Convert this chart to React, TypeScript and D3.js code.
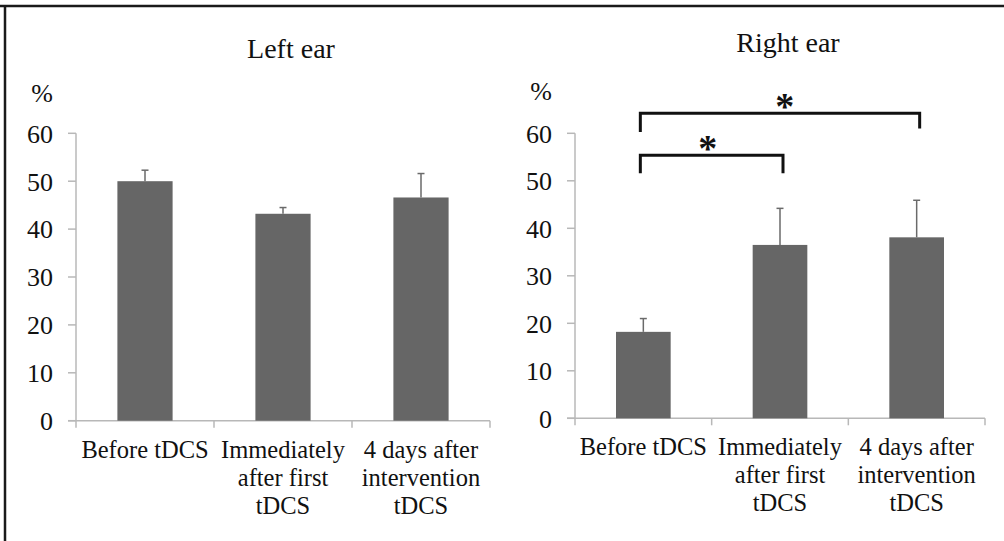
import React from "react";
import * as d3 from "d3";

const categories: string[][] = [
  ["Before tDCS"],
  ["Immediately", "after first", "tDCS"],
  ["4 days after", "intervention", "tDCS"],
];
const yTicks = [0, 10, 20, 30, 40, 50, 60];
const leftMeans = [50.0, 43.2, 46.6];
const leftErrors = [2.3, 1.3, 5.0];
const rightMeans = [18.2, 36.5, 38.1];
const rightErrors = [2.8, 7.7, 7.8];
const rightBrackets = [
  { from: 0, to: 2, level: 64.2, leftEnd: 60.3, rightEnd: 61.0 },
  { from: 0, to: 1, level: 55.4, leftEnd: 51.6, rightEnd: 51.6 },
];

const BAR = "#666666";
const AXIS = "#b8b8b8";

type PanelProps = {
  title: string;
  means: number[];
  errors: number[];
  x0: number;
  x1: number;
  yZero: number;
  yTop: number;
  titleY: number;
  pctY: number;
  brackets?: typeof rightBrackets;
};

function Panel({ title, means, errors, x0, x1, yZero, yTop, titleY, pctY, brackets }: PanelProps) {
  const keys = categories.map((c) => c.join(" "));
  const x = d3.scaleBand<string>().domain(keys).range([x0, x1]).paddingInner(0.6).paddingOuter(0.3);
  const y = d3.scaleLinear().domain([0, 60]).range([yZero, yTop]);
  const step = x.step();
  const bw = x.bandwidth();
  const cx = (i: number) => (x(keys[i]) as number) + bw / 2;
  const capW = 7;
  return (
    <g>
      <text className="ser" x={(x0 + x1) / 2 + 8} y={titleY} textAnchor="middle" fontSize={28} fill="#111">
        {title}
      </text>
      <text className="ser" x={x0 - 23} y={pctY} textAnchor="end" fontSize={26} fill="#111">
        %
      </text>
      <line x1={x0} x2={x0} y1={y(60)} y2={y(0)} stroke={AXIS} strokeWidth={1.5} />
      {yTicks.map((t) => (
        <g key={t}>
          <line x1={x0 - 8} x2={x0} y1={y(t)} y2={y(t)} stroke={AXIS} strokeWidth={1.5} />
          <text className="ser" x={x0 - 23} y={y(t)} dy="0.36em" textAnchor="end" fontSize={26} fill="#111">
            {t}
          </text>
        </g>
      ))}
      <line x1={x0 - 8} x2={x1} y1={y(0)} y2={y(0)} stroke={AXIS} strokeWidth={1.5} />
      {d3.range(categories.length + 1).map((i) => (
        <line key={i} x1={x0 + i * step} x2={x0 + i * step} y1={y(0)} y2={y(0) + 7} stroke={AXIS} strokeWidth={1.5} />
      ))}
      {means.map((m, i) => (
        <rect key={i} x={x(keys[i])} y={y(m)} width={bw} height={y(0) - y(m)} fill={BAR} />
      ))}
      {means.map((m, i) => (
        <g key={"e" + i} stroke="#6a6a6a" strokeWidth={1.5}>
          <line x1={cx(i)} x2={cx(i)} y1={y(m)} y2={y(m + errors[i])} />
          <line x1={cx(i) - capW / 2} x2={cx(i) + capW / 2} y1={y(m + errors[i])} y2={y(m + errors[i])} />
        </g>
      ))}
      {categories.map((lines, i) => (
        <text className="ser" key={"c" + i} x={cx(i)} y={y(0) + 37} textAnchor="middle" fontSize={24.5} fill="#111">
          {lines.map((l, j) => (
            <tspan key={j} x={cx(i)} dy={j === 0 ? 0 : 28}>
              {l}
            </tspan>
          ))}
        </text>
      ))}
      {(brackets || []).map((b, k) => {
        const xa = cx(b.from) - 3;
        const xb = cx(b.to) + 3;
        const path = d3.path();
        path.moveTo(xa, y(b.leftEnd));
        path.lineTo(xa, y(b.level));
        path.lineTo(xb, y(b.level));
        path.lineTo(xb, y(b.rightEnd));
        const mid = b.to === 2 ? xb - 135 : (xa + xb) / 2 - 4;
        return (
          <g key={"b" + k}>
            <path d={path.toString()} fill="none" stroke="#111" strokeWidth={3} />
            <text className="ser" x={mid} y={y(b.level) + 6} textAnchor="middle" fontSize={38} fontWeight="bold" fill="#111">
              *
            </text>
          </g>
        );
      })}
    </g>
  );
}

export default function App() {
  return (
    <svg width={1004} height={541} style={{ position: "absolute", left: 0, top: 0, background: "#fff", fontFamily: '"Liberation Serif"' }}>
      <style>{`.ser { font-family: "Liberation Serif", "Tinos", "Times New Roman", serif; }`}</style>
      <rect x={0} y={0} width={1004} height={541} fill="#fff" />
      <line x1={0} x2={1004} y1={6} y2={6} stroke="#1a1a1a" strokeWidth={2.5} />
      <line x1={5} x2={5} y1={6} y2={541} stroke="#1a1a1a" strokeWidth={2.5} />
      <Panel
        title="Left ear"
        means={leftMeans}
        errors={leftErrors}
        x0={76}
        x1={490}
        yZero={420.7}
        yTop={133.3}
        titleY={58.3}
        pctY={101.5}
      />
      <Panel
        title="Right ear"
        means={rightMeans}
        errors={rightErrors}
        x0={575}
        x1={985}
        yZero={418.3}
        yTop={133.3}
        titleY={51.7}
        pctY={100}
        brackets={rightBrackets}
      />
    </svg>
  );
}
